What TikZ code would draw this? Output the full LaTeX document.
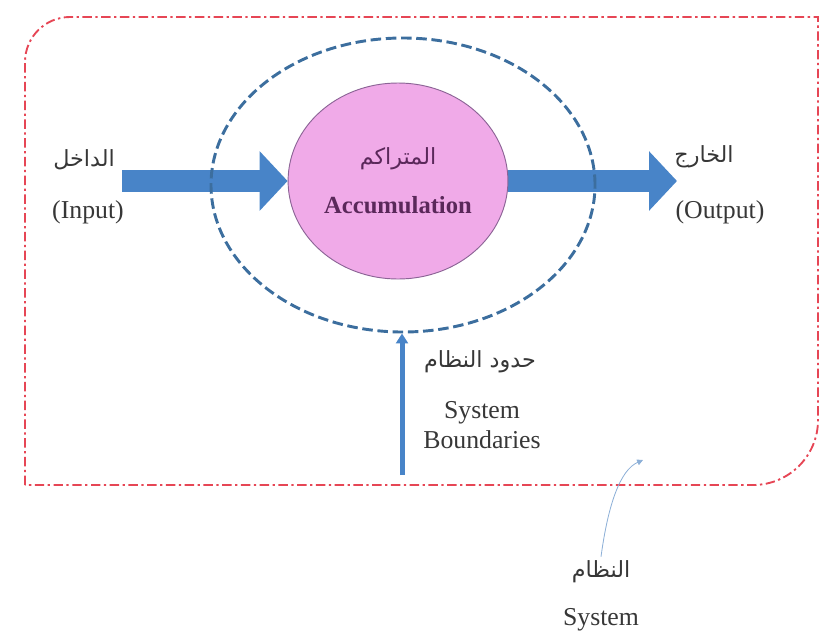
\documentclass[tikz,border=0pt]{standalone}
\usepackage{fontspec}
\setmainfont{Liberation Serif}
\newfontfamily\arabicfont[Script=Arabic]{DejaVu Sans}
\TeXXeTstate=1
\usetikzlibrary{
  positioning,
  shapes.geometric,
  arrows.meta,
  backgrounds
}
\definecolor{flowblue}{RGB}{72,132,200}
\definecolor{boundblue}{RGB}{60,110,158}
\definecolor{accpink}{RGB}{240,170,232}
\definecolor{accborder}{RGB}{140,100,150}
\definecolor{accpurple}{RGB}{90,40,90}
\definecolor{textgray}{RGB}{55,55,55}
\definecolor{sysred}{RGB}{230,70,85}
\definecolor{hintblue}{RGB}{140,175,215}
\newcommand{\artext}[1]{{\arabicfont\beginR #1\endR}}

\begin{document}
\begin{tikzpicture}[x=0.03cm, y=-0.03cm,
  every node/.style={font=\fontsize{22}{25.6}\selectfont, text=textgray},
  boundary/.style={ellipse, draw=boundblue, line width=2.5pt, dash pattern=on 9pt off 4pt, minimum width=11.52cm, minimum height=8.82cm},
  accum/.style={ellipse, draw=accborder, fill=accpink, thick, minimum width=6.3cm, minimum height=5.88cm, align=center, text=accpurple, font=\fontsize{21}{42}\selectfont\bfseries},
  arname/.style={font=\fontsize{19}{22}\selectfont},
  flow/.style={draw=flowblue, line width=0.66cm, -{Triangle[length=0.84cm 0 0, width=1.74cm 0 0]}},
  thinflow/.style={draw=flowblue, line width=0.15cm, -{Triangle[length=0.3cm 0 0, width=0.36cm 0 0]}},
  hint/.style={draw=hintblue, line width=0.7pt, -{Triangle[length=5pt, width=5pt]}},
  sysline/.style={draw=sysred, line width=1.6pt, dash pattern=on 8pt off 3pt on 2pt off 3pt}
]
\useasboundingbox (0,0) rectangle (823,639);

% System and its boundary
\draw[sysline] (25,485) -- (25,62) arc[start angle=180, end angle=270, radius=45]
  -- (818,17) -- (818,420) arc[start angle=0, end angle=90, radius=65] -- cycle;
\node[boundary] (bound) at (403,185) {};
\node[accum] (acc) at (398,181) {{\mdseries\fontsize{19}{42}\selectfont\artext{المتراكم}}\\Accumulation};

% Labels
\node[arname] (inar) at (84,160) {\artext{الداخل}};
\node (inen) at (88,212) {(Input)};
\node[arname] (outar) at (704,157) {\artext{الخارج}};
\node (outen) at (720,212) {(Output)};
\node[arname] (bdar) at (480,362) {\artext{حدود النظام}};
\node[align=center] (bden) at (482,425) {System\\Boundaries};
\node[arname] (sysar) at (601,572) {\artext{النظام}};
\node (sysen) at (601,620) {System};

\coordinate (instart) at (122,181);
\coordinate (outend) at (677,181);
\coordinate (bdstart) at (402,475);
\coordinate (systip) at (643,460);

% Arrows
\begin{scope}[on background layer]
\draw[flow] (instart) -- (acc.west);
\draw[flow] (acc.east) -- (outend);
\draw[thinflow] (bdstart) -- (bdstart |- bound.south);
\end{scope}
\draw[hint] (sysar.north) .. controls (608,505) and (620,470) .. (systip);

\end{tikzpicture}
\end{document}
